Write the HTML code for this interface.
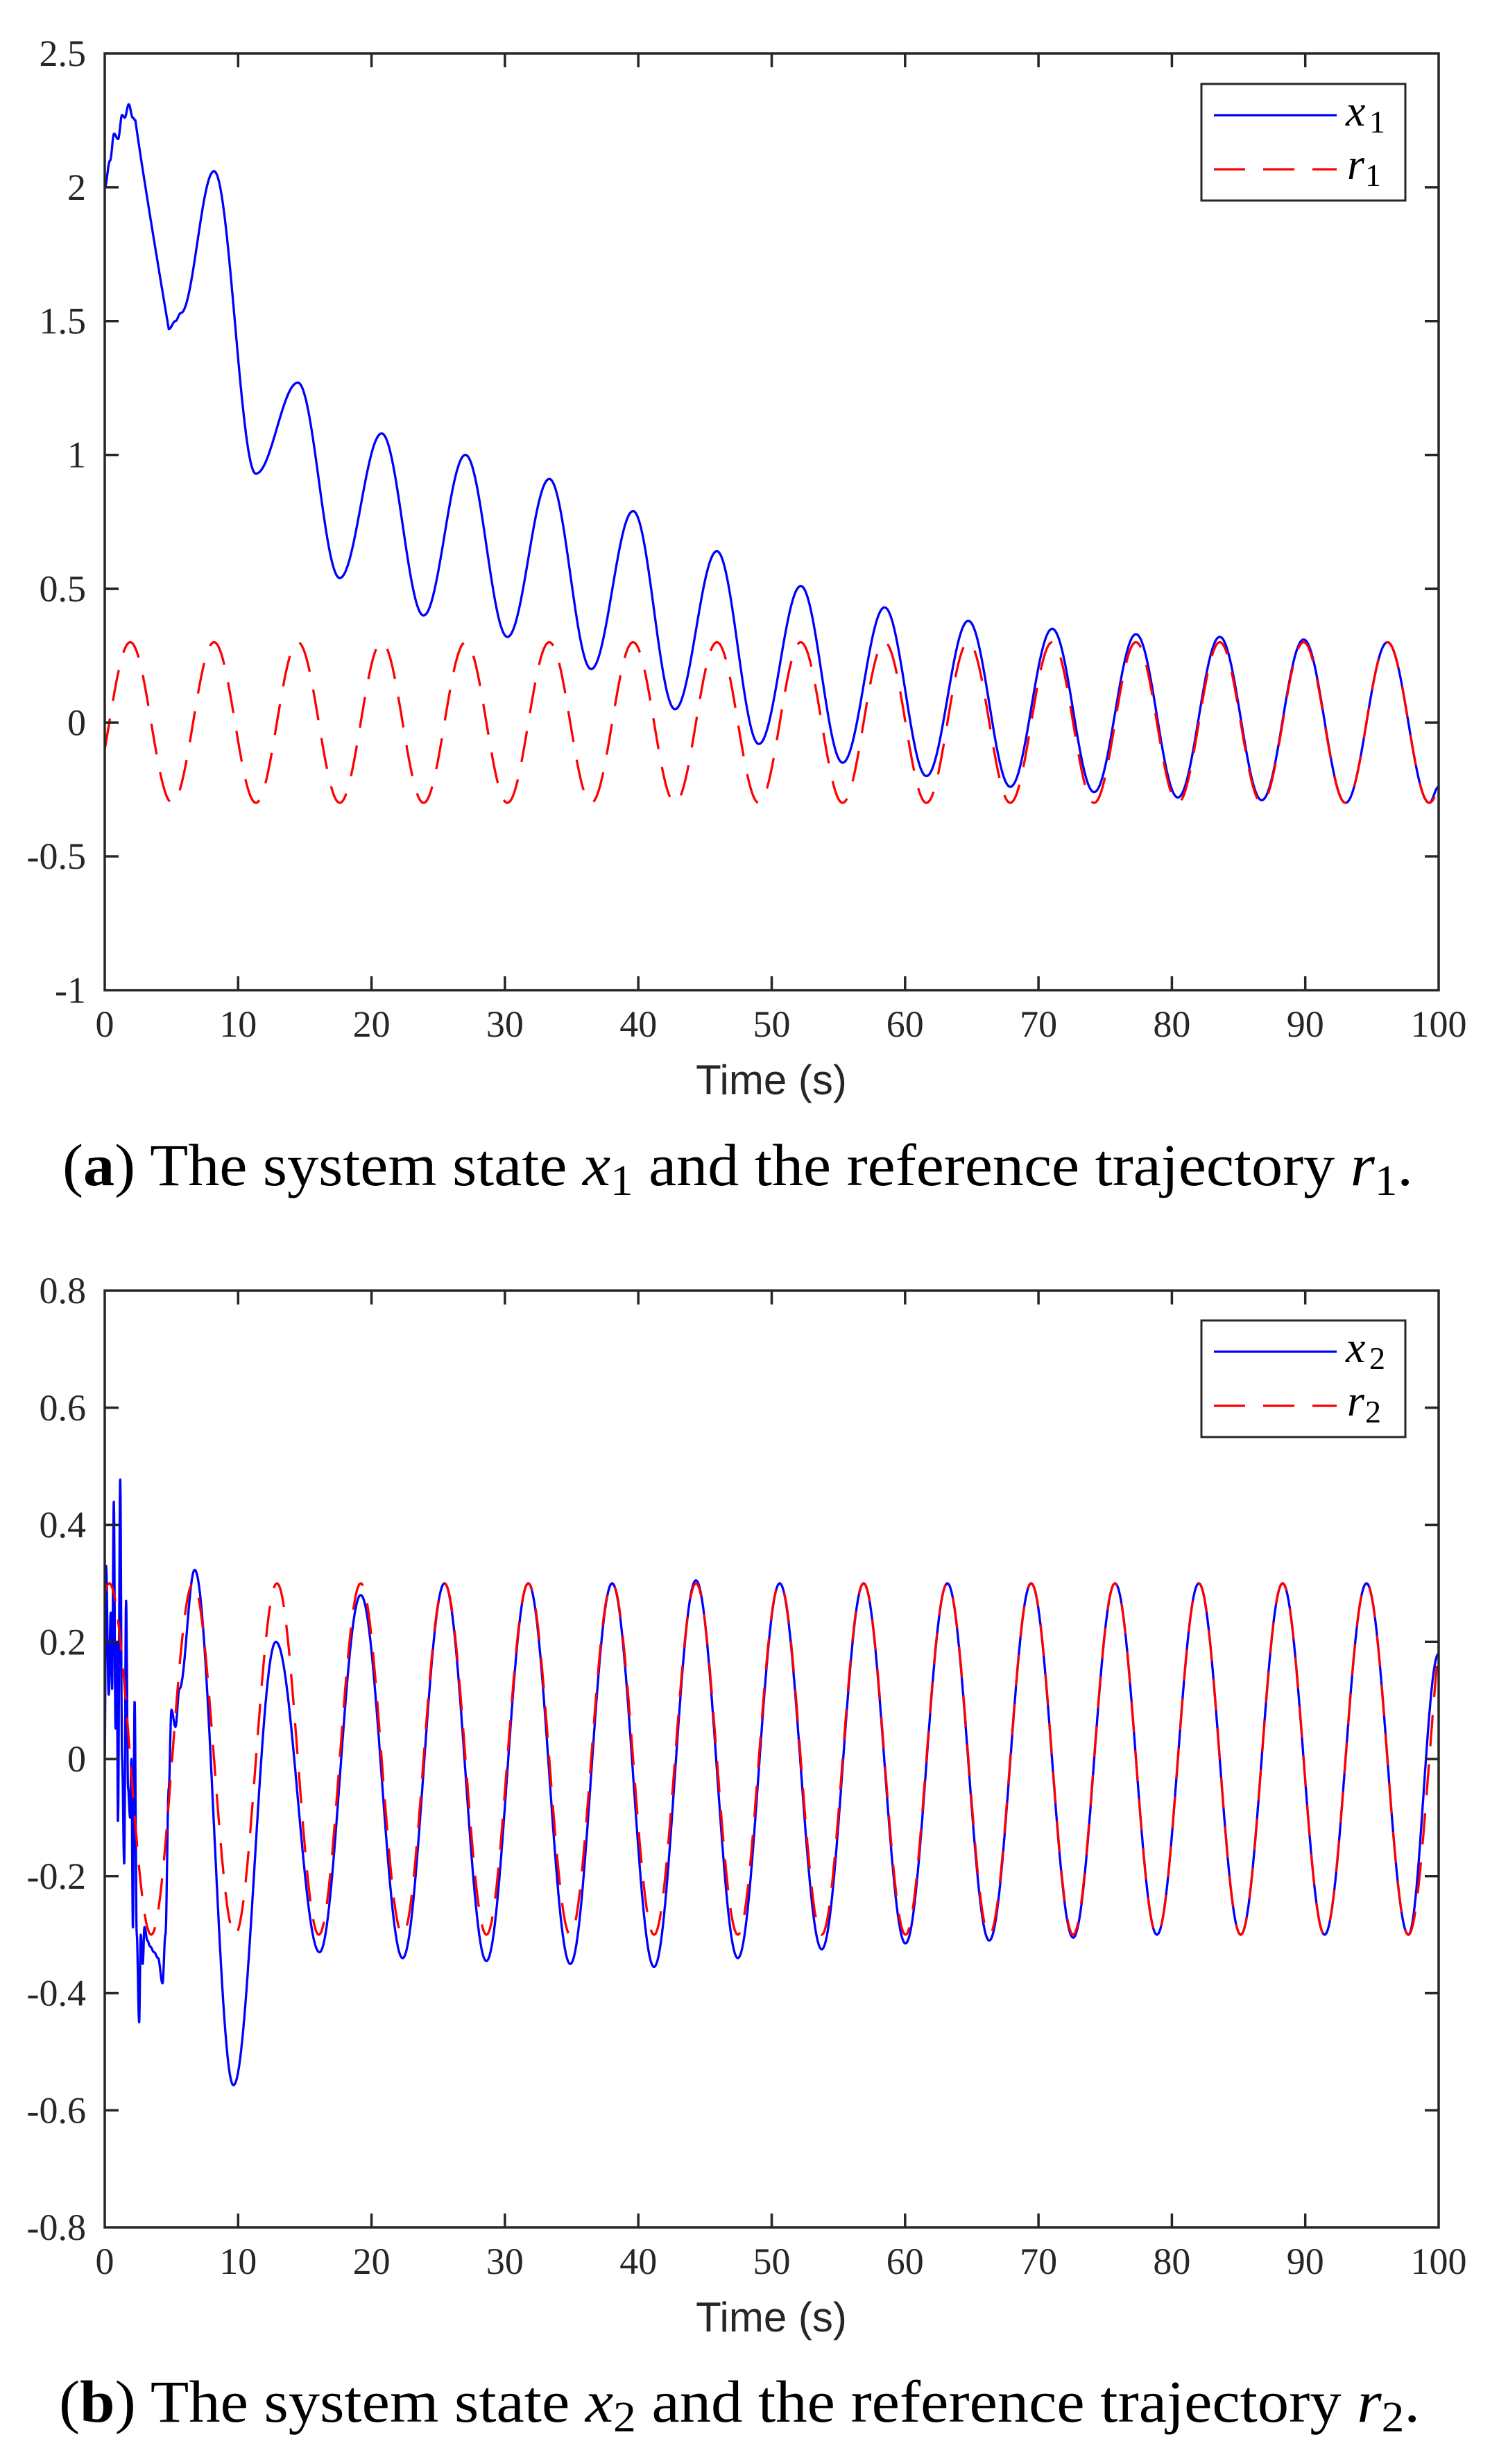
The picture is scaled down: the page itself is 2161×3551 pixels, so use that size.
<!DOCTYPE html>
<html><head><meta charset="utf-8"><style>
html,body{margin:0;padding:0;background:#fff;}
svg{display:block;}
.tk{font-family:"Liberation Serif",serif;font-size:54px;fill:#262626;}
.lab{font-family:"Liberation Sans",sans-serif;font-size:60px;fill:#262626;}
.cap{font-family:"Liberation Serif",serif;font-size:86px;fill:#000;}
.lg{font-family:"Liberation Serif",serif;font-style:italic;font-size:64px;fill:#000;}
.sub{font-family:"Liberation Serif",serif;font-size:46px;fill:#000;}
</style></head><body>
<svg id="s" width="2161" height="3551" viewBox="0 0 2161 3551" xmlns="http://www.w3.org/2000/svg">
<rect width="2161" height="3551" fill="#fff"/>
<g id="g"></g>
<text class="cap" x="90" y="1708" textLength="1947" lengthAdjust="spacingAndGlyphs">(<tspan font-weight="bold">a</tspan>) The system state <tspan font-style="italic">x</tspan><tspan font-size="62" dy="14">1</tspan><tspan dy="-14"> and the reference trajectory </tspan><tspan font-style="italic">r</tspan><tspan font-size="62" dy="14">1</tspan><tspan dy="-14">.</tspan></text>
<text class="cap" x="85" y="3490" textLength="1962" lengthAdjust="spacingAndGlyphs">(<tspan font-weight="bold">b</tspan>) The system state <tspan font-style="italic">x</tspan><tspan font-size="62" dy="14">2</tspan><tspan dy="-14"> and the reference trajectory </tspan><tspan font-style="italic">r</tspan><tspan font-size="62" dy="14">2</tspan><tspan dy="-14">.</tspan></text>
</svg>
<script>
(function(){
var NS="http://www.w3.org/2000/svg",g=document.getElementById("g");
function el(t,a,txt){var e=document.createElementNS(NS,t);for(var k in a)e.setAttribute(k,a[k]);if(txt!==undefined)e.textContent=txt;g.appendChild(e);return e;}
var L=151,R=2074;
function X(t){return L+(R-L)*t/100;}
function interp(pts,t){
 for(var i=0;i<pts.length-1;i++){var a=pts[i],b=pts[i+1];
  if(t>=a[0]&&t<=b[0]){var u=(t-a[0])/(b[0]-a[0]);var w=(1-Math.cos(Math.PI*u))/2;return a[1]+(b[1]-a[1])*w;}}
 return pts[pts.length-1][1];}
function plot(top,bot,ymin,ymax,step,dec,fx,fr,leg,sub){
 function Y(v){return top+(bot-top)*(ymax-v)/(ymax-ymin);}
 var d="",d2="";
 for(var i=0;i<=4000;i++){var t=i*100/4000;d+=(i?"L":"M")+X(t).toFixed(1)+" "+Y(fr(t)).toFixed(1);}
 for(var i=0;i<=6000;i++){var t=i*100/6000;d2+=(i?"L":"M")+X(t).toFixed(1)+" "+Y(fx(t)).toFixed(1);}
 var cp="cp"+top;
 var c=el("clipPath",{id:cp});var r=document.createElementNS(NS,"rect");r.setAttribute("x",L);r.setAttribute("y",top);r.setAttribute("width",R-L);r.setAttribute("height",bot-top);c.appendChild(r);
 el("path",{d:d2,fill:"none",stroke:"#0000ff","stroke-width":3.3,"clip-path":"url(#"+cp+")","stroke-linejoin":"round"});
 el("path",{d:d,fill:"none",stroke:"#ff0000","stroke-width":3.3,"stroke-dasharray":"45 26","clip-path":"url(#"+cp+")"});
 el("rect",{x:L,y:top,width:R-L,height:bot-top,fill:"none",stroke:"#262626","stroke-width":3.5});
 for(var k=0;k<=10;k++){var x=X(k*10);
  if(k>0&&k<10){el("line",{x1:x,y1:bot,x2:x,y2:bot-20,stroke:"#262626","stroke-width":3.5});el("line",{x1:x,y1:top,x2:x,y2:top+20,stroke:"#262626","stroke-width":3.5});}
  el("text",{"class":"tk",x:x,y:bot+67,"text-anchor":"middle"},String(k*10));}
 var n=Math.round((ymax-ymin)/step);
 for(var k=0;k<=n;k++){var v=ymin+k*step,y=Y(v);
  if(k>0&&k<n){el("line",{x1:L,y1:y,x2:L+20,y2:y,stroke:"#262626","stroke-width":3.5});el("line",{x1:R,y1:y,x2:R-20,y2:y,stroke:"#262626","stroke-width":3.5});}
  var s=Math.abs(v)<1e-9?"0":(Math.round(v*10)/10).toString();
  el("text",{"class":"tk",x:124,y:y+18,"text-anchor":"end"},s);}
 el("text",{"class":"lab",x:1112,y:bot+150,"text-anchor":"middle"},"Time (s)");
 el("rect",{x:1732,y:leg,width:294,height:168,fill:"#fff",stroke:"#262626","stroke-width":3});
 el("line",{x1:1750,y1:leg+45,x2:1927,y2:leg+45,stroke:"#0000ff","stroke-width":3.3});
 el("line",{x1:1750,y1:leg+123,x2:1927,y2:leg+123,stroke:"#ff0000","stroke-width":3.3,"stroke-dasharray":"45 26"});
 el("text",{"class":"lg",x:1940,y:leg+60},"x");
 el("text",{"class":"sub",x:1974,y:leg+70},sub);
 el("text",{"class":"lg",x:1942,y:leg+137},"r");
 el("text",{"class":"sub",x:1968,y:leg+147},sub);
}
function r1(t){return 0.3*Math.sin(t-0.34);}
function r2(t){return 0.3*Math.cos(t-0.34);}
var p1=[[0,2.0],[0.4,2.1],[0.7,2.2],[1.0,2.18],[1.3,2.27],[1.5,2.26],[1.8,2.31],[2.1,2.26],[2.3,2.25],[4.8,1.47],[5.3,1.5],[5.7,1.53],[8.19,2.06],[11.33,0.93],[14.48,1.27],[17.62,0.54],[20.76,1.08],[23.9,0.40],[27.04,1.0],[30.19,0.32],[33.33,0.91],[36.47,0.2],[39.61,0.79],[42.75,0.05],[45.89,0.64],[49.04,-0.08],[52.18,0.51],[55.32,-0.15],[58.46,0.43],[61.6,-0.2],[64.74,0.38],[67.89,-0.24],[71.03,0.35],[74.17,-0.26],[77.31,0.33],[80.45,-0.28],[83.59,0.32],[86.74,-0.29],[89.88,0.31],[93.02,-0.30],[96.16,0.30],[99.3,-0.30],[100,-0.24]];
function x1(t){
 if(t>2.3&&t<4.8){var u=(t-2.3)/2.5;return 2.25+(1.47-2.25)*Math.pow(u,0.95);}
 return interp(p1,t);}
plot(77,1427,-1,2.5,0.5,1,x1,r1,121,"1");
var p2=[[0,0.0],[0.1,0.33],[0.3,0.11],[0.45,0.25],[0.55,0.12],[0.68,0.44],[0.81,0.05],[0.9,0.2],[0.99,-0.11],[1.16,0.48],[1.3,0.0],[1.46,-0.18],[1.6,0.27],[1.75,-0.05],[1.9,-0.1],[2.0,0.0],[2.11,-0.29],[2.24,0.10],[2.4,-0.3],[2.58,-0.45],[2.7,-0.3],[2.85,-0.35],[2.98,-0.287],[3.2,-0.31],[3.4,-0.32],[3.7,-0.33],[4.0,-0.34],[4.33,-0.383],[4.55,-0.3],[4.8,-0.05],[5.0,0.084],[5.3,0.055],[5.6,0.12],[6.74,0.323],[9.65,-0.557],[12.83,0.2],[16.1,-0.33],[19.19,0.28],[22.33,-0.34],[25.47,0.30],[28.61,-0.345],[31.75,0.30],[34.9,-0.35],[38.04,0.30],[41.18,-0.355],[44.32,0.305],[47.46,-0.34],[50.6,0.30],[53.75,-0.325],[56.89,0.30],[60.03,-0.315],[63.17,0.30],[66.31,-0.31],[69.45,0.30],[72.6,-0.305],[75.74,0.30],[78.88,-0.30],[82.02,0.30],[85.16,-0.30],[88.3,0.30],[91.45,-0.30],[94.59,0.30],[97.73,-0.30],[100,0.18]];
function x2(t){return interp(p2,t);}
plot(1860,3210,-0.8,0.8,0.2,1,x2,r2,1903,"2");
})();
</script>
</body></html>
